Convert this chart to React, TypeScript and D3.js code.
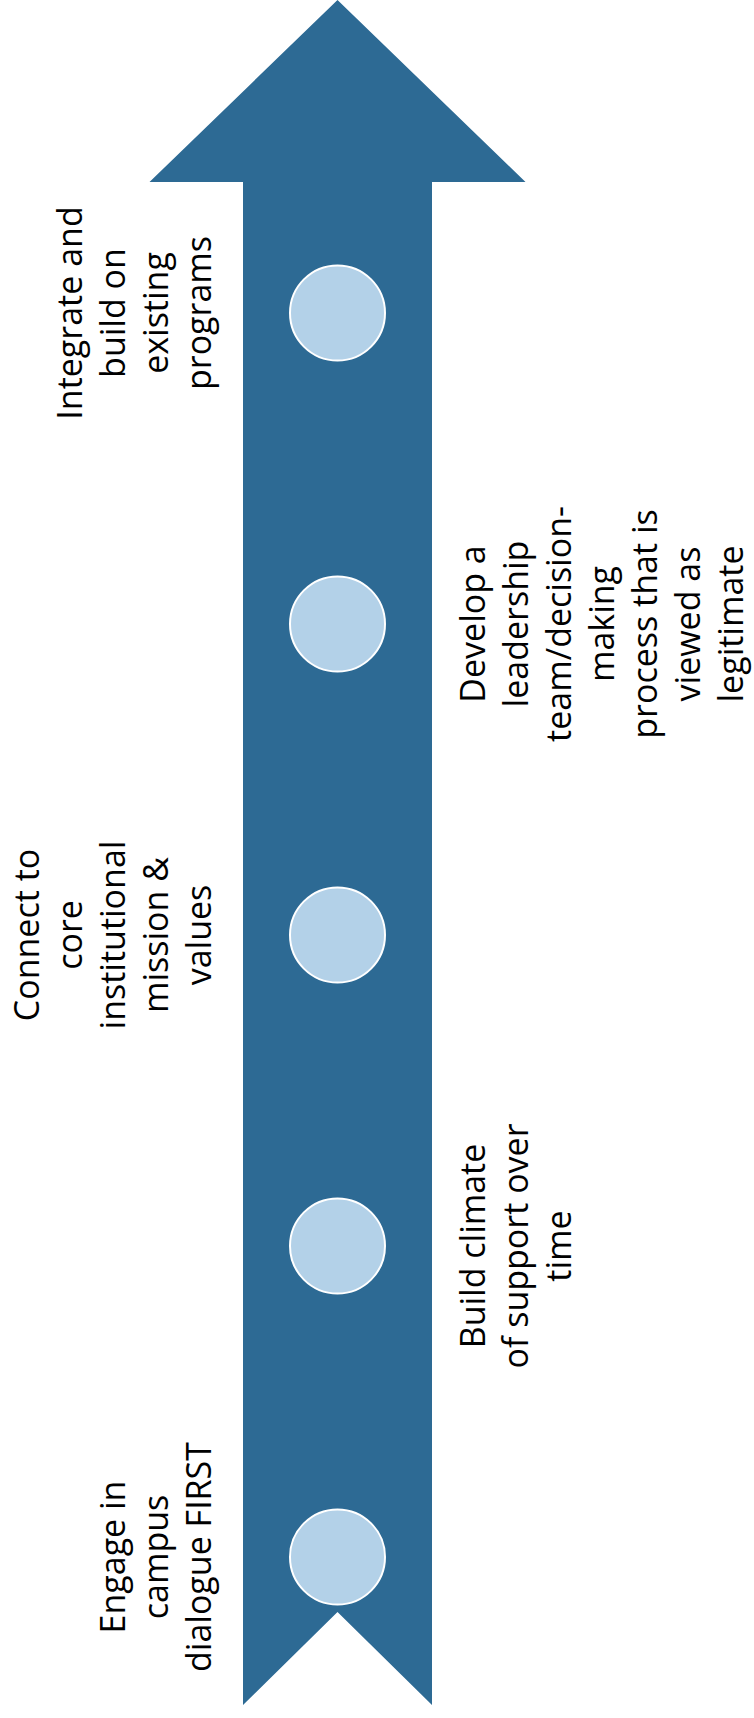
import React from "react";
import * as d3 from "d3";

const W = 754;
const H = 1718;

// Steps from bottom (first) to top (last)
const stepLabels: string[][] = [
  ["Engage in", "campus", "dialogue FIRST"],
  ["Build climate", "of support over", "time"],
  ["Connect to", "core", "institutional", "mission &", "values"],
  ["Develop a", "leadership", "team/decision-", "making", "process that is", "viewed as", "legitimate"],
  ["Integrate and", "build on", "existing", "programs"],
];
const stepSides: ("left" | "right")[] = ["left", "right", "left", "right", "left"];
const stepIndex: number[] = [0, 1, 2, 3, 4];

const ARROW = "#2D6A94";
const DOT = "#B3D1E8";
const FONT = "'Open Sans', Lato, sans-serif";
const FONT_SIZE = 34;
const LINE = 43;

export default function App() {
  const cx = 337.5;
  const shaftHalf = 94.5;
  const headHalf = 188;
  const headBase = 182;
  const bottom = 1705;
  const notch = 1612;

  const y = d3.scalePoint<number>().domain(stepIndex).range([1557, 313]);

  const arrowPts: [number, number][] = [
    [cx, 0],
    [cx + headHalf, headBase],
    [cx + shaftHalf, headBase],
    [cx + shaftHalf, bottom],
    [cx, notch],
    [cx - shaftHalf, bottom],
    [cx - shaftHalf, headBase],
    [cx - headHalf, headBase],
  ];
  const line = d3.line().curve(d3.curveLinearClosed);

  return (
    <svg
      width={W}
      height={H}
      style={{ position: "absolute", left: 0, top: 0, background: "#fff" }}
    >
      <path d={line(arrowPts) || ""} fill={ARROW} />
      {stepIndex.map((i) => (
        <circle
          key={"c" + i}
          cx={cx}
          cy={y(i)!}
          r={47.5}
          fill={DOT}
          stroke="#fff"
          strokeWidth={2}
        />
      ))}
      {stepIndex.map((i) => {
        const lines = stepLabels[i];
        const side = stepSides[i];
        const cy = y(i)!;
        // baseline of first line (screen x)
        const firstBase = side === "left" ? 210.5 - (lines.length - 1) * LINE : 485;
        return (
          <g key={"t" + i} transform={`translate(${firstBase},${cy}) rotate(-90)`}>
            {lines.map((l, k) => (
              <text
                key={k}
                x={0}
                y={k * LINE}
                textAnchor="middle"
                fontFamily={FONT}
                fontSize={FONT_SIZE}
                fill="#000"
              >
                {l}
              </text>
            ))}
          </g>
        );
      })}
    </svg>
  );
}
